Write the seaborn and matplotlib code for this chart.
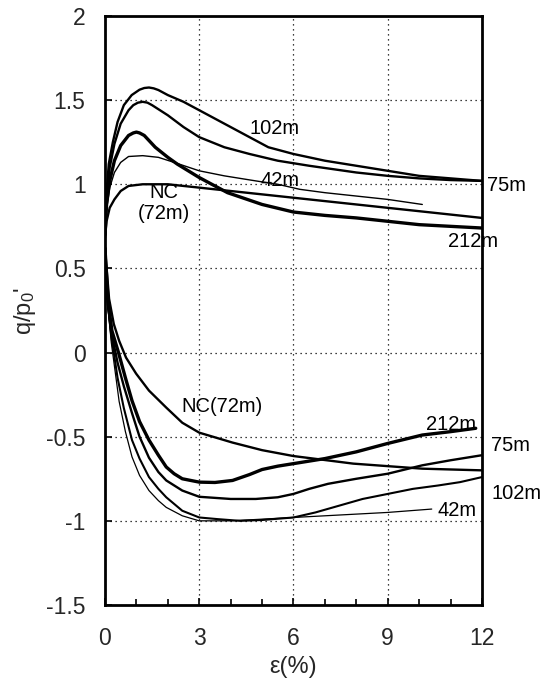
import matplotlib
matplotlib.use("Agg")
import matplotlib.pyplot as plt
from matplotlib.ticker import MultipleLocator, FixedLocator, FixedFormatter
import seaborn as sns
import pandas as pd

# ---- strain (%) and stress ratio q/p0' for each test ----
# compression branch
c102_x = [0, 0.05, 0.12, 0.25, 0.4, 0.6, 0.85, 1.1, 1.25, 1.4, 1.55, 1.7, 2.0, 2.5, 3.0, 3.8, 4.6, 5.2, 6.0, 7.0, 8.0, 9.0, 10.0, 11.0, 12.0]
c102_y = [0.70, 0.95, 1.12, 1.25, 1.37, 1.47, 1.53, 1.562, 1.572, 1.575, 1.57, 1.56, 1.53, 1.49, 1.44, 1.36, 1.28, 1.22, 1.18, 1.14, 1.11, 1.08, 1.05, 1.035, 1.02]

c75_x = [0, 0.05, 0.15, 0.3, 0.5, 0.75, 0.9, 1.05, 1.2, 1.35, 1.5, 2.0, 2.5, 3.0, 3.8, 4.6, 5.5, 6.5, 8.0, 9.0, 10.0, 11.0, 12.0]
c75_y = [0.70, 0.92, 1.10, 1.24, 1.36, 1.44, 1.47, 1.485, 1.49, 1.485, 1.47, 1.41, 1.34, 1.28, 1.22, 1.18, 1.14, 1.11, 1.07, 1.05, 1.035, 1.025, 1.02]

c212_x = [0, 0.05, 0.15, 0.3, 0.5, 0.75, 0.9, 1.0, 1.1, 1.25, 1.6, 2.0, 2.3, 3.0, 3.9, 5.0, 6.0, 7.0, 8.0, 9.0, 10.0, 11.0, 12.0]
c212_y = [0.70, 0.88, 1.02, 1.14, 1.23, 1.29, 1.305, 1.31, 1.305, 1.29, 1.22, 1.16, 1.12, 1.04, 0.95, 0.88, 0.835, 0.815, 0.80, 0.78, 0.76, 0.75, 0.74]

c42_x = [0, 0.05, 0.15, 0.3, 0.5, 0.75, 1.2, 1.7, 2.2, 3.0, 3.8, 4.8, 5.5, 6.2, 7.0, 8.0, 9.0, 10.1]
c42_y = [0.68, 0.85, 0.98, 1.07, 1.13, 1.165, 1.17, 1.16, 1.13, 1.08, 1.05, 1.02, 1.00, 0.97, 0.95, 0.93, 0.91, 0.88]

cnc_x = [0, 0.05, 0.15, 0.3, 0.5, 0.75, 1.2, 2.0, 3.0, 4.0, 5.0, 6.0, 7.0, 8.0, 9.0, 10.0, 11.0, 12.0]
cnc_y = [0.68, 0.78, 0.86, 0.91, 0.96, 0.99, 1.00, 1.00, 0.98, 0.96, 0.94, 0.92, 0.90, 0.88, 0.86, 0.84, 0.82, 0.80]

# extension branch
enc_x = [0, 0.13, 0.28, 0.45, 0.67, 0.99, 1.4, 1.95, 2.46, 3.0, 4.06, 5.0, 6.0, 7.9, 10.1, 12.0]
enc_y = [0.62, 0.32, 0.17, 0.07, -0.03, -0.125, -0.226, -0.327, -0.417, -0.476, -0.535, -0.58, -0.615, -0.66, -0.69, -0.70]

e212_x = [0, 0.1, 0.22, 0.43, 0.65, 0.86, 1.1, 1.4, 1.7, 1.95, 2.2, 2.46, 3.0, 3.5, 4.06, 4.6, 5.0, 5.5, 6.0, 7.0, 8.0, 9.0, 10.1, 11.0, 11.8]
e212_y = [0.62, 0.30, 0.13, 0.0, -0.15, -0.286, -0.41, -0.52, -0.61, -0.68, -0.72, -0.75, -0.77, -0.772, -0.76, -0.725, -0.695, -0.675, -0.66, -0.63, -0.59, -0.54, -0.49, -0.47, -0.45]

e75_x = [0, 0.1, 0.2, 0.4, 0.6, 0.86, 1.1, 1.4, 1.7, 1.95, 2.46, 3.0, 4.0, 4.8, 5.5, 6.0, 6.5, 7.1, 8.0, 9.0, 10.1, 11.0, 12.0]
e75_y = [0.62, 0.28, 0.12, -0.06, -0.20, -0.36, -0.50, -0.625, -0.71, -0.76, -0.82, -0.857, -0.87, -0.87, -0.86, -0.84, -0.81, -0.78, -0.75, -0.72, -0.67, -0.64, -0.61]

e102_x = [0, 0.1, 0.2, 0.4, 0.6, 0.86, 1.1, 1.4, 1.7, 1.95, 2.46, 3.0, 3.6, 4.3, 5.0, 6.0, 6.7, 7.45, 8.2, 9.0, 9.8, 10.6, 11.3, 12.0]
e102_y = [0.62, 0.27, 0.10, -0.15, -0.33, -0.52, -0.63, -0.74, -0.81, -0.86, -0.94, -0.98, -0.99, -1.0, -0.995, -0.98, -0.95, -0.91, -0.87, -0.84, -0.81, -0.79, -0.77, -0.74]

e42_x = [0, 0.1, 0.2, 0.3, 0.45, 0.65, 0.86, 1.1, 1.4, 1.7, 1.95, 2.46, 3.0, 4.0, 5.0, 6.0, 7.0, 8.0, 9.0, 10.4]
e42_y = [0.62, 0.26, 0.06, -0.08, -0.29, -0.47, -0.62, -0.73, -0.82, -0.88, -0.92, -0.97, -1.0, -1.0, -0.99, -0.98, -0.97, -0.96, -0.95, -0.93]

# axis ticks
x_ticks = [0, 3, 6, 9, 12]
x_ticklabels = ["0", "3", "6", "9", "12"]
y_ticks = [-1.5, -1, -0.5, 0, 0.5, 1, 1.5, 2]
y_ticklabels = ["-1.5", "-1", "-0.5", "0", "0.5", "1", "1.5", "2"]

sns.set_style("ticks")
plt.rcParams["font.family"] = ["Liberation Sans", "DejaVu Sans"]
plt.rcParams["mathtext.default"] = "regular"
plt.rcParams["axes.unicode_minus"] = False

fig = plt.figure(figsize=(5.42, 6.86), dpi=100)
ax = fig.add_axes([0.1937, 0.1181, 0.6956, 0.8586])

curves = [
    (c102_x, c102_y, 1.7),
    (c75_x, c75_y, 1.7),
    (c212_x, c212_y, 2.4),
    (c42_x, c42_y, 1.0),
    (cnc_x, cnc_y, 1.7),
    (enc_x, enc_y, 1.7),
    (e212_x, e212_y, 2.4),
    (e75_x, e75_y, 1.7),
    (e102_x, e102_y, 1.5),
    (e42_x, e42_y, 0.9),
]
for xs, ys, lw in curves:
    df = pd.DataFrame({"strain": xs, "ratio": ys})
    sns.lineplot(data=df, x="strain", y="ratio", ax=ax, color="black",
                 linewidth=lw, sort=False, estimator=None, zorder=3)

ax.set_xlim(0, 12)
ax.set_ylim(-1.5, 2)
ax.xaxis.set_major_locator(FixedLocator(x_ticks))
ax.xaxis.set_major_formatter(FixedFormatter(x_ticklabels))
ax.xaxis.set_minor_locator(MultipleLocator(1))
ax.yaxis.set_major_locator(FixedLocator(y_ticks))
ax.yaxis.set_major_formatter(FixedFormatter(y_ticklabels))

ax.grid(True, which="major", color="black", linestyle=(0, (1, 3)), linewidth=0.9, zorder=1)
ax.tick_params(axis="both", which="both", direction="in", color="black")
ax.tick_params(axis="x", which="major", length=5, width=1.2, labelsize=16.5, pad=16)
ax.tick_params(axis="x", which="minor", length=4, width=1.2)
ax.tick_params(axis="y", which="major", length=5, width=1.2, labelsize=16.5, pad=14)
for sp in ax.spines.values():
    sp.set_linewidth(2.0)
    sp.set_color("black")
    sp.set_visible(True)

ax.set_xlabel("ε(%)", fontsize=17, labelpad=4)
ax.set_ylabel("q/p$_0$'", fontsize=17, labelpad=6)

# curve labels
lbl = dict(fontsize=14.5, color="black", va="center", zorder=4)
ax.text(5.41, 1.33, "102m", ha="center", **lbl)
ax.text(5.57, 1.02, "42m", ha="center", **lbl)
ax.text(1.87, 0.89, "NC\n(72m)", ha="center", linespacing=1.12, **lbl)
ax.text(12.15, 0.99, "75m", ha="left", clip_on=False, **lbl)
ax.text(11.7, 0.66, "212m", ha="center", clip_on=False, **lbl)
ax.text(3.73, -0.32, "NC(72m)", ha="center", **lbl)
ax.text(11.0, -0.43, "212m", ha="center", **lbl)
ax.text(12.3, -0.55, "75m", ha="left", clip_on=False, **lbl)
ax.text(12.3, -0.84, "102m", ha="left", clip_on=False, **lbl)
ax.text(11.2, -0.94, "42m", ha="center", **lbl)

fig.savefig("out.png", dpi=100)
